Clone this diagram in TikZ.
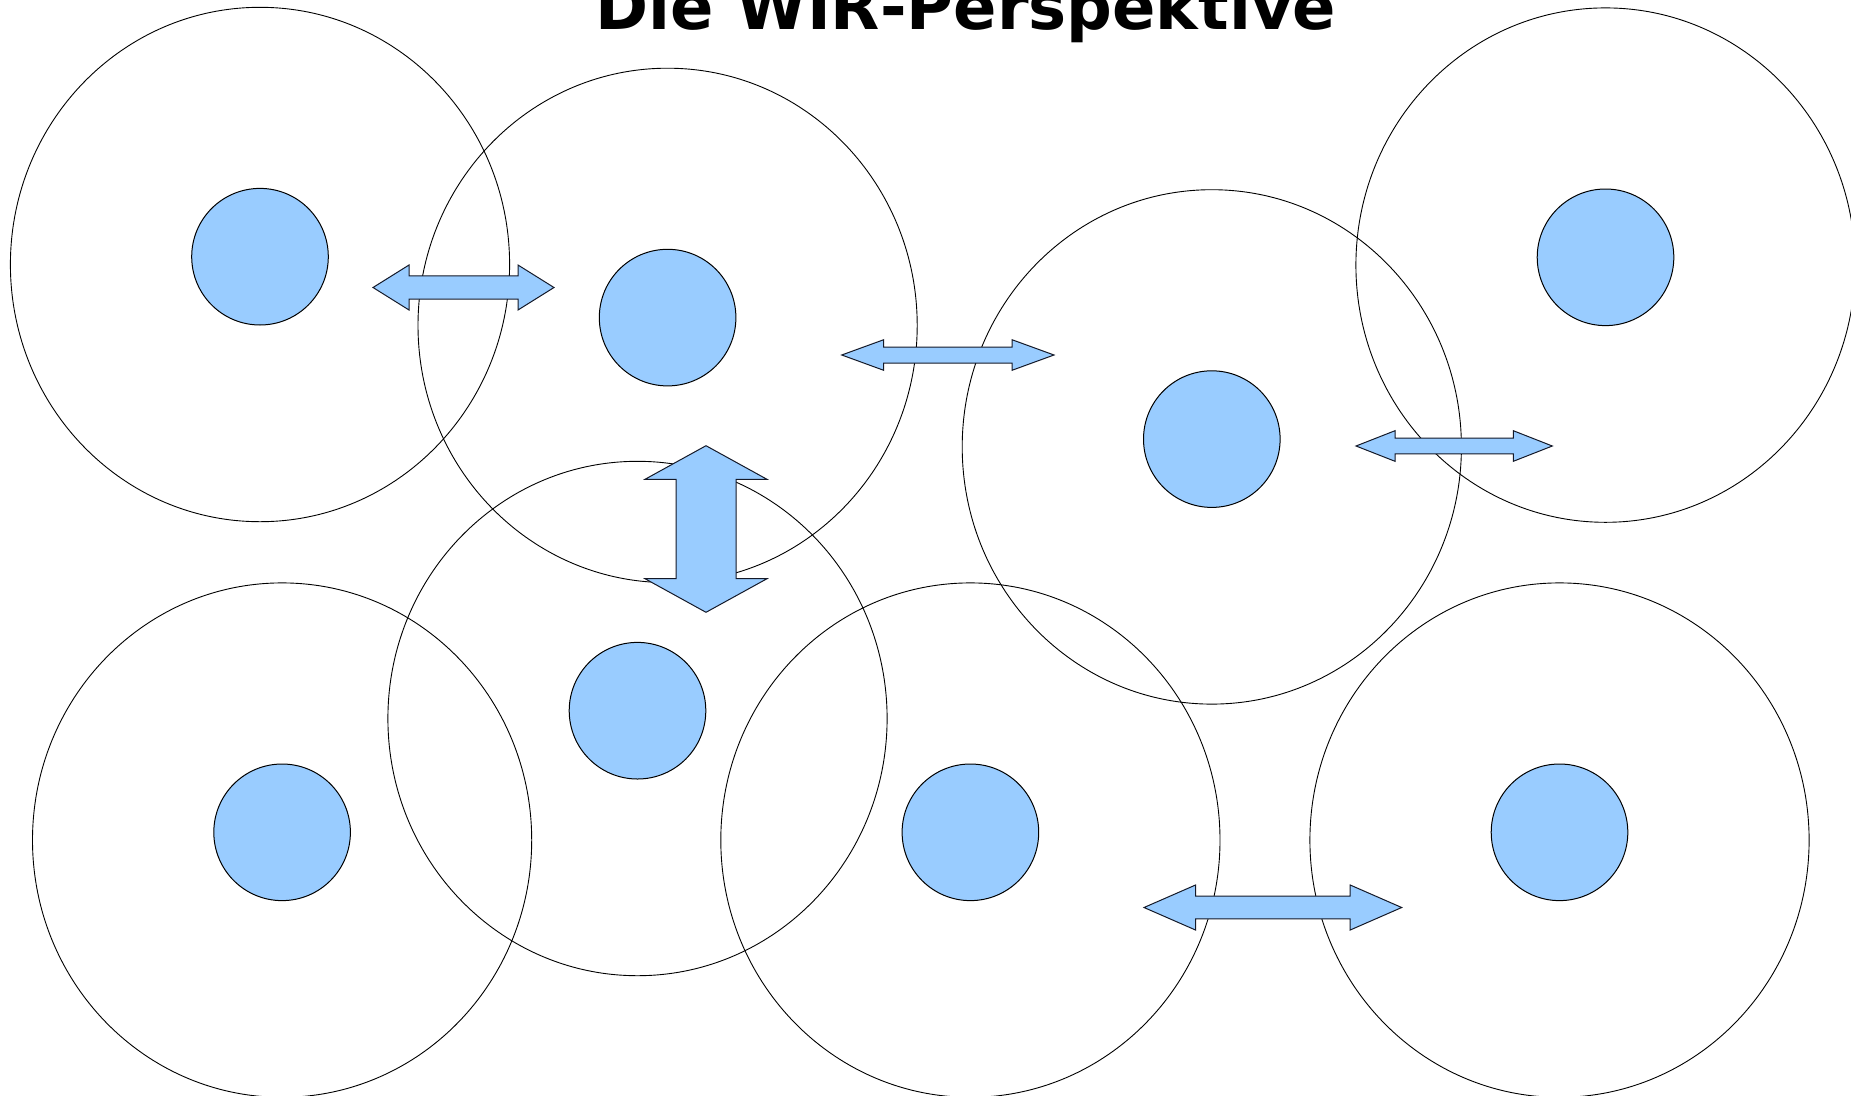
\documentclass[tikz,border=0pt]{standalone}
\usepackage{fontspec}
\newfontfamily\titlefont{DejaVu Sans}
\definecolor{personblue}{RGB}{153,204,255}
\definecolor{edgedark}{RGB}{20,25,40}

\tikzset{
  zone/.style={draw=black, line width=0.9pt},
  person/.style={draw=black, line width=1pt, fill=personblue},
  linkarrow/.style={draw=edgedark, line width=1pt, fill=personblue, line join=miter},
  heading/.style={font=\titlefont\bfseries\fontsize{64}{70}\selectfont, anchor=base, inner sep=0pt}
}

% horizontal double arrow: left tip, right tip, centre y, head length, head half height, shaft half height
\newcommand\hdouble[6]{%
  \path[linkarrow] (#1,#3) -- ({#1+#4},{#3-#5}) -- ({#1+#4},{#3-#6}) -- ({#2-#4},{#3-#6})
    -- ({#2-#4},{#3-#5}) -- (#2,#3) -- ({#2-#4},{#3+#5}) -- ({#2-#4},{#3+#6})
    -- ({#1+#4},{#3+#6}) -- ({#1+#4},{#3+#5}) -- cycle;}
% vertical double arrow: top tip, bottom tip, centre x, head length, head half width, shaft half width
\newcommand\vdouble[6]{%
  \path[linkarrow] (#3,#1) -- ({#3+#5},{#1+#4}) -- ({#3+#6},{#1+#4}) -- ({#3+#6},{#2-#4})
    -- ({#3+#5},{#2-#4}) -- (#3,#2) -- ({#3-#5},{#2-#4}) -- ({#3-#6},{#2-#4})
    -- ({#3-#6},{#1+#4}) -- ({#3-#5},{#1+#4}) -- cycle;}

\begin{document}
\begin{tikzpicture}[x=1pt, y=-1pt]
  \useasboundingbox (0,0) rectangle (1851,1095);

  % spheres of the individual persons
  \foreach \n/\cx/\cy in {z1/260/264.5, z2/667.6/325.4, z3/1211.8/446.9, z4/1605.5/265.1,
                          z5/282.1/840.1, z6/637.5/718.5, z7/970.4/840.1, z8/1559.5/840.1}{
    \draw[zone] (\cx,\cy) ellipse [x radius=249.6, y radius=257.2];
    \coordinate (\n) at (\cx,\cy);
  }

  % the persons
  \foreach \n/\cx/\cy in {p1/260/256.7, p2/667.6/317.6, p3/1211.8/439.1, p4/1605.5/257.3,
                          p5/282.1/832.3, p6/637.5/710.7, p7/970.4/832.3, p8/1559.5/832.3}{
    \node[person, circle, minimum size=136.6pt, inner sep=0pt] (\n) at (\cx,\cy) {};
  }

  % exchange between the persons
  \hdouble{373}{554}{287.5}{36}{22.5}{11.7}
  \hdouble{841.7}{1054}{355}{42}{15.3}{8}
  \hdouble{1356}{1552.3}{446}{39}{15.3}{7.8}
  \hdouble{1144}{1401.7}{907.5}{51.5}{22.5}{11.3}
  \vdouble{445.7}{612.3}{706}{33.6}{61}{30}

  \node[heading] (title) at (966,29) {Die WIR-Perspektive};
\end{tikzpicture}
\end{document}
